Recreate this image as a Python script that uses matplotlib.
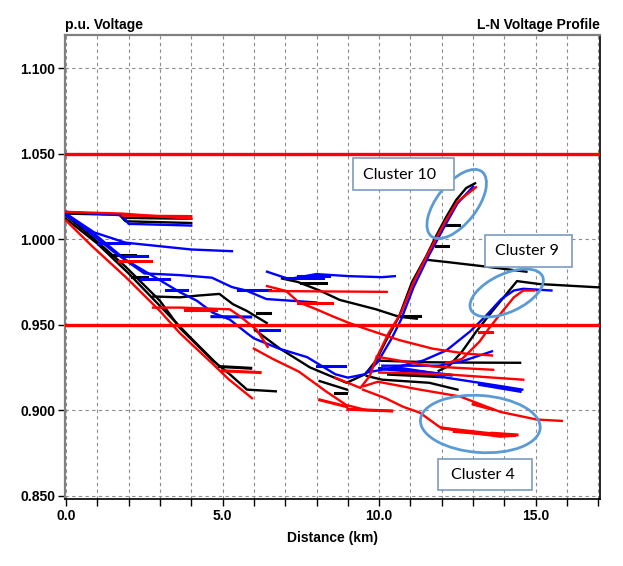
import matplotlib
matplotlib.use("Agg")
import matplotlib.pyplot as plt
from matplotlib.patches import Ellipse, Rectangle
from matplotlib.ticker import MultipleLocator, FormatStrFormatter

# ---------------- data (distance km, p.u. voltage) ----------------
# black phase
k_top_d = [0, 1.2, 1.7, 1.9, 4.0]
k_top_v = [1.015, 1.0145, 1.0145, 1.0105, 1.0095]
k_top2_d = [1.9, 3.0, 4.0]
k_top2_v = [1.0125, 1.0122, 1.012]
k_steep_d = [0, 0.85, 1.9, 3.0, 3.64, 4.69, 5.23, 5.78, 6.7]
k_steep_v = [1.014, 1.001, 0.984, 0.964, 0.948, 0.929, 0.921, 0.912, 0.911]
k_steep2_d = [0, 1.0, 2.0, 3.0, 4.0, 4.9]
k_steep2_v = [1.012, 0.9975, 0.980, 0.961, 0.942, 0.9255]
k_branch_d = [2.79, 3.64, 4.2, 4.9, 5.33, 5.78, 6.41]
k_branch_v = [0.9665, 0.966, 0.967, 0.968, 0.962, 0.958, 0.951]
k_feed_d = [6.03, 6.83, 7.79, 8.96, 9.55, 9.9, 10.2, 10.64, 11.05, 11.5, 11.82, 12.14, 12.46, 12.78, 13.06]
k_feed_v = [0.947, 0.936, 0.925, 0.916, 0.921, 0.929, 0.940, 0.955, 0.975, 0.990, 1.002, 1.013, 1.023, 1.030, 1.0327]
k_mid_d = [6.9, 7.4, 8.1, 8.74, 9.9, 10.64, 11.2]
k_mid_v = [0.977, 0.975, 0.970, 0.9645, 0.959, 0.9546, 0.9535]
k_c10b_d = [11.5, 12.24, 13.4, 14.7]
k_c10b_v = [0.988, 0.9865, 0.984, 0.981]
k_c9_d = [11.9, 12.24, 12.65, 13.1, 13.6, 13.93, 14.4, 15.1, 17.05]
k_c9_v = [0.923, 0.926, 0.9344, 0.946, 0.9576, 0.965, 0.9755, 0.9738, 0.9718]
k_right1_d = [9.9, 11.6, 13.0, 14.5]
k_right1_v = [0.929, 0.928, 0.9278, 0.9277]
k_right2_d = [9.6, 10.1, 11.6, 12.5]
k_right2_v = [0.920, 0.9178, 0.916, 0.912]
k_low_d = [8.1, 8.97]
k_low_v = [0.917, 0.912]
k_tick_d = [[1.45, 2.2], [2.1, 2.6], [4.9, 5.9], [6.1, 6.5], [7.5, 8.3], [10.6, 11.3],
            [12.0, 12.55], [11.8, 12.2], [8.6, 8.95], [10.3, 12.0]]
k_tick_v = [[0.991, 0.991], [0.978, 0.978], [0.9255, 0.9245], [0.957, 0.957], [0.9745, 0.9745],
            [0.955, 0.955], [1.0085, 1.0085], [0.996, 0.996], [0.910, 0.910], [0.921, 0.9195]]

# blue phase
b_top_d = [0, 1.8, 2.0, 4.0]
b_top_v = [1.016, 1.014, 1.009, 1.008]
b1_d = [0, 0.9, 1.9, 4.0, 5.3]
b1_v = [1.015, 1.004, 0.998, 0.994, 0.993]
b2_d = [0, 1.5, 2.5, 3.64, 4.66, 5.3, 5.75, 6.4, 8.0]
b2_v = [1.015, 0.993, 0.980, 0.979, 0.9775, 0.972, 0.970, 0.965, 0.963]
b3_d = [0, 0.85, 1.9, 3.0, 3.64, 4.18, 4.69, 5.23, 5.78, 6.0, 6.8, 7.7, 8.6, 9.0, 9.55,
        9.95, 10.4, 10.7, 11.1, 11.6, 12.1, 12.5, 13.0]
b3_v = [1.014, 1.004, 0.988, 0.976, 0.969, 0.964, 0.957, 0.953, 0.945, 0.942, 0.936, 0.931,
        0.921, 0.919, 0.921, 0.928, 0.942, 0.953, 0.972, 0.991, 1.008, 1.021, 1.0308]
b_mid_d = [6.42, 7.12, 7.99, 9.04, 10.1, 10.5]
b_mid_v = [0.981, 0.9767, 0.9796, 0.9784, 0.9778, 0.9784]
b_c9_d = [9.6, 10.5, 11.4, 12.15, 12.9, 13.4, 13.9, 14.3, 14.6, 15.5]
b_c9_v = [0.922, 0.925, 0.929, 0.935, 0.946, 0.955, 0.965, 0.970, 0.971, 0.970]
b_right1_d = [10.0, 11.05, 12.14, 13.2, 13.9, 14.57]
b_right1_v = [0.9246, 0.9234, 0.919, 0.916, 0.914, 0.912]
b_right2_d = [10.1, 11.05, 11.9, 12.65, 13.6]
b_right2_v = [0.926, 0.926, 0.926, 0.9286, 0.9344]
b_tick_d = [[1.05, 2.0], [1.9, 2.6], [2.4, 3.3], [3.2, 3.85], [5.5, 6.5], [4.66, 5.9], [6.2, 6.8],
            [8.0, 8.9], [7.0, 8.2], [7.4, 8.4], [10.2, 11.5], [10.5, 11.9], [10.8, 12.3], [13.2, 14.5]]
b_tick_v = [[0.998, 0.998], [0.990, 0.990], [0.977, 0.977], [0.9705, 0.9705], [0.970, 0.970],
            [0.9547, 0.9545], [0.9466, 0.9466], [0.926, 0.926], [0.9775, 0.9775], [0.9785, 0.9785],
            [0.924, 0.922], [0.925, 0.921], [0.9235, 0.9205], [0.915, 0.911]]

# red phase
r_top_d = [0, 1.8, 4.0]
r_top_v = [1.016, 1.015, 1.012]
r_top2_d = [1.8, 4.0]
r_top2_v = [1.0138, 1.0135]
r_steep_d = [0, 0.83, 1.9, 3.0, 3.64, 4.69, 5.2, 5.94]
r_steep_v = [1.011, 0.996, 0.978, 0.958, 0.945, 0.927, 0.918, 0.907]
r_branch_d = [2.78, 3.64, 5.23, 5.55, 6.09, 6.44]
r_branch_v = [0.960, 0.960, 0.959, 0.955, 0.947, 0.937]
r_feed_d = [6.0, 6.6, 7.44, 8.3, 8.95, 9.6, 10.4]
r_feed_v = [0.936, 0.930, 0.9225, 0.911, 0.903, 0.900, 0.8995]
r_c10_d = [8.6, 9.0, 9.4, 9.7, 9.9, 10.3, 10.7, 11.1, 11.6, 12.1, 12.5, 13.09]
r_c10_v = [0.919, 0.916, 0.913, 0.920, 0.930, 0.945, 0.957, 0.975, 0.993, 1.010, 1.022, 1.0304]
r_c4u_d = [9.5, 9.96, 11.3, 12.58, 13.86, 15.03, 15.83]
r_c4u_v = [0.914, 0.9166, 0.912, 0.908, 0.899, 0.8945, 0.8937]
r_c4l_d = [9.48, 10.2, 10.76, 11.3, 11.94, 12.8, 13.86, 14.33]
r_c4l_v = [0.912, 0.907, 0.902, 0.8985, 0.890, 0.887, 0.8845, 0.885]
r_mid_d = [6.42, 7.03, 7.44, 8.0, 8.5, 9.04, 9.58, 10.64, 11.7, 12.78, 13.6]
r_mid_v = [0.9726, 0.9697, 0.963, 0.959, 0.955, 0.951, 0.9475, 0.941, 0.936, 0.933, 0.932]
r_flat_d = [6.5, 10.24]
r_flat_v = [0.9697, 0.9692]
r_c9_d = [12.14, 12.65, 13.2, 13.5, 13.9, 14.3, 14.6, 14.95]
r_c9_v = [0.9275, 0.930, 0.940, 0.9477, 0.957, 0.966, 0.970, 0.970]
r_right1_d = [9.92, 11.73, 13.64]
r_right1_v = [0.9313, 0.9255, 0.9236]
r_right2_d = [10.0, 12.1, 14.6]
r_right2_v = [0.922, 0.921, 0.9178]
r_tick_d = [[1.7, 2.7], [5.0, 6.2], [3.8, 4.8], [9.0, 10.4], [13.2, 13.6], [7.4, 8.5],
            [12.0, 13.9], [12.4, 13.8], [13.0, 13.6], [8.1, 8.97], [13.6, 14.4]]
r_tick_v = [[0.987, 0.987], [0.923, 0.922], [0.9585, 0.9585], [0.9005, 0.8995], [0.946, 0.946],
            [0.9625, 0.9625], [0.8895, 0.8855], [0.8875, 0.8855], [0.9035, 0.9005], [0.906, 0.902],
            [0.8865, 0.8855]]

limits = [1.05, 0.95]

# ---------------- figure ----------------
W, H = 623, 566
fig = plt.figure(figsize=(W / 100, H / 100), dpi=100)
ax = fig.add_axes([65 / W, 1 - 499 / H, 535 / W, 464 / H])

black_lines = [(k_top_d, k_top_v), (k_top2_d, k_top2_v), (k_steep_d, k_steep_v),
               (k_steep2_d, k_steep2_v), (k_branch_d, k_branch_v), (k_feed_d, k_feed_v),
               (k_mid_d, k_mid_v), (k_c10b_d, k_c10b_v), (k_c9_d, k_c9_v),
               (k_right1_d, k_right1_v), (k_right2_d, k_right2_v), (k_low_d, k_low_v)]
blue_lines = [(b_top_d, b_top_v), (b1_d, b1_v), (b2_d, b2_v), (b3_d, b3_v), (b_mid_d, b_mid_v),
              (b_c9_d, b_c9_v), (b_right1_d, b_right1_v), (b_right2_d, b_right2_v)]
red_lines = [(r_top_d, r_top_v), (r_top2_d, r_top2_v), (r_steep_d, r_steep_v),
             (r_branch_d, r_branch_v), (r_feed_d, r_feed_v), (r_c10_d, r_c10_v),
             (r_c4u_d, r_c4u_v), (r_c4l_d, r_c4l_v), (r_mid_d, r_mid_v), (r_flat_d, r_flat_v),
             (r_c9_d, r_c9_v), (r_right1_d, r_right1_v), (r_right2_d, r_right2_v)]

for lines, ticks_d, ticks_v, col, z in [(black_lines, k_tick_d, k_tick_v, "black", 3),
                                        (blue_lines, b_tick_d, b_tick_v, "#0000ff", 4),
                                        (red_lines, r_tick_d, r_tick_v, "#ff0000", 5)]:
    for d, v in lines:
        ax.plot(d, v, color=col, lw=1.7, zorder=z, solid_joinstyle="round")
    for d, v in zip(ticks_d, ticks_v):
        ax.plot(d, v, color=col, lw=2.2, zorder=z)

for lim in limits:
    ax.axhline(lim, color="#ff0000", lw=2.4, zorder=6)

ax.set_xlim(-0.03, 17.05)
ax.set_ylim(0.848, 1.1195)
ax.xaxis.set_major_locator(MultipleLocator(5))
ax.xaxis.set_minor_locator(MultipleLocator(1))
ax.yaxis.set_major_locator(MultipleLocator(0.05))
ax.xaxis.set_major_formatter(FormatStrFormatter("%.1f"))
ax.yaxis.set_major_formatter(FormatStrFormatter("%.3f"))

grid_kw = dict(color="#8c8c8c", lw=0.8, linestyle=(0, (3, 3)))
ax.grid(True, which="both", axis="x", **grid_kw)
ax.grid(True, which="major", axis="y", **grid_kw)
ax.set_axisbelow(True)

tickfont = dict(family="Liberation Sans", weight="bold", size=10)
ax.tick_params(axis="both", which="both", direction="out", length=5, width=1, color="black", pad=2)
for lab in ax.get_xticklabels() + ax.get_yticklabels():
    lab.set_fontfamily("Liberation Sans")
    lab.set_fontweight("bold")
    lab.set_fontsize(10)

for side in ["left", "top"]:
    ax.spines[side].set_color("#808080")
    ax.spines[side].set_linewidth(1.6)
for side in ["right", "bottom"]:
    ax.spines[side].set_color("black")
    ax.spines[side].set_linewidth(1.2)

ax.set_xlabel("Distance (km)", fontdict=tickfont, labelpad=6)
fig.text(65 / W, 1 - 25 / H, "p.u. Voltage", ha="left", va="center", **tickfont)
fig.text(600 / W, 1 - 25 / H, "L-N Voltage Profile", ha="right", va="center", **tickfont)

# ---------------- annotations (pixel layout) ----------------
T = fig.dpi_scale_trans


def P(x, y):
    return (x / 100, (H - y) / 100)


ell_col = "#5b9bd5"
for cx, cy, w, h, ang in [(456.7, 204, 82, 40, 52), (506.7, 293, 79, 38, 25),
                          (480.3, 424, 120, 57, -4)]:
    e = Ellipse(P(cx, cy), w / 100, h / 100, angle=ang, transform=T, fill=False,
                edgecolor=ell_col, lw=2.0, zorder=10)
    fig.add_artist(e)

box_col = "#7a9cc0"
for x0, y0, x1, y1, tx, ty, s in [(352.7, 158.3, 454, 190, 400, 175, "Cluster 10"),
                                  (485, 235, 571.7, 266.7, 527, 251, "Cluster 9"),
                                  (438.3, 459, 532.3, 490, 483, 475, "Cluster 4")]:
    r = Rectangle(P(x0, y1), (x1 - x0) / 100, (y1 - y0) / 100, transform=T,
                  facecolor="white", edgecolor=box_col, lw=1.2, zorder=11)
    fig.add_artist(r)
    fig.text(tx / W, 1 - ty / H, s, ha="center", va="center", family="Lato",
             size=11.5, color="black", zorder=12)

fig.savefig("out.png", dpi=100)
